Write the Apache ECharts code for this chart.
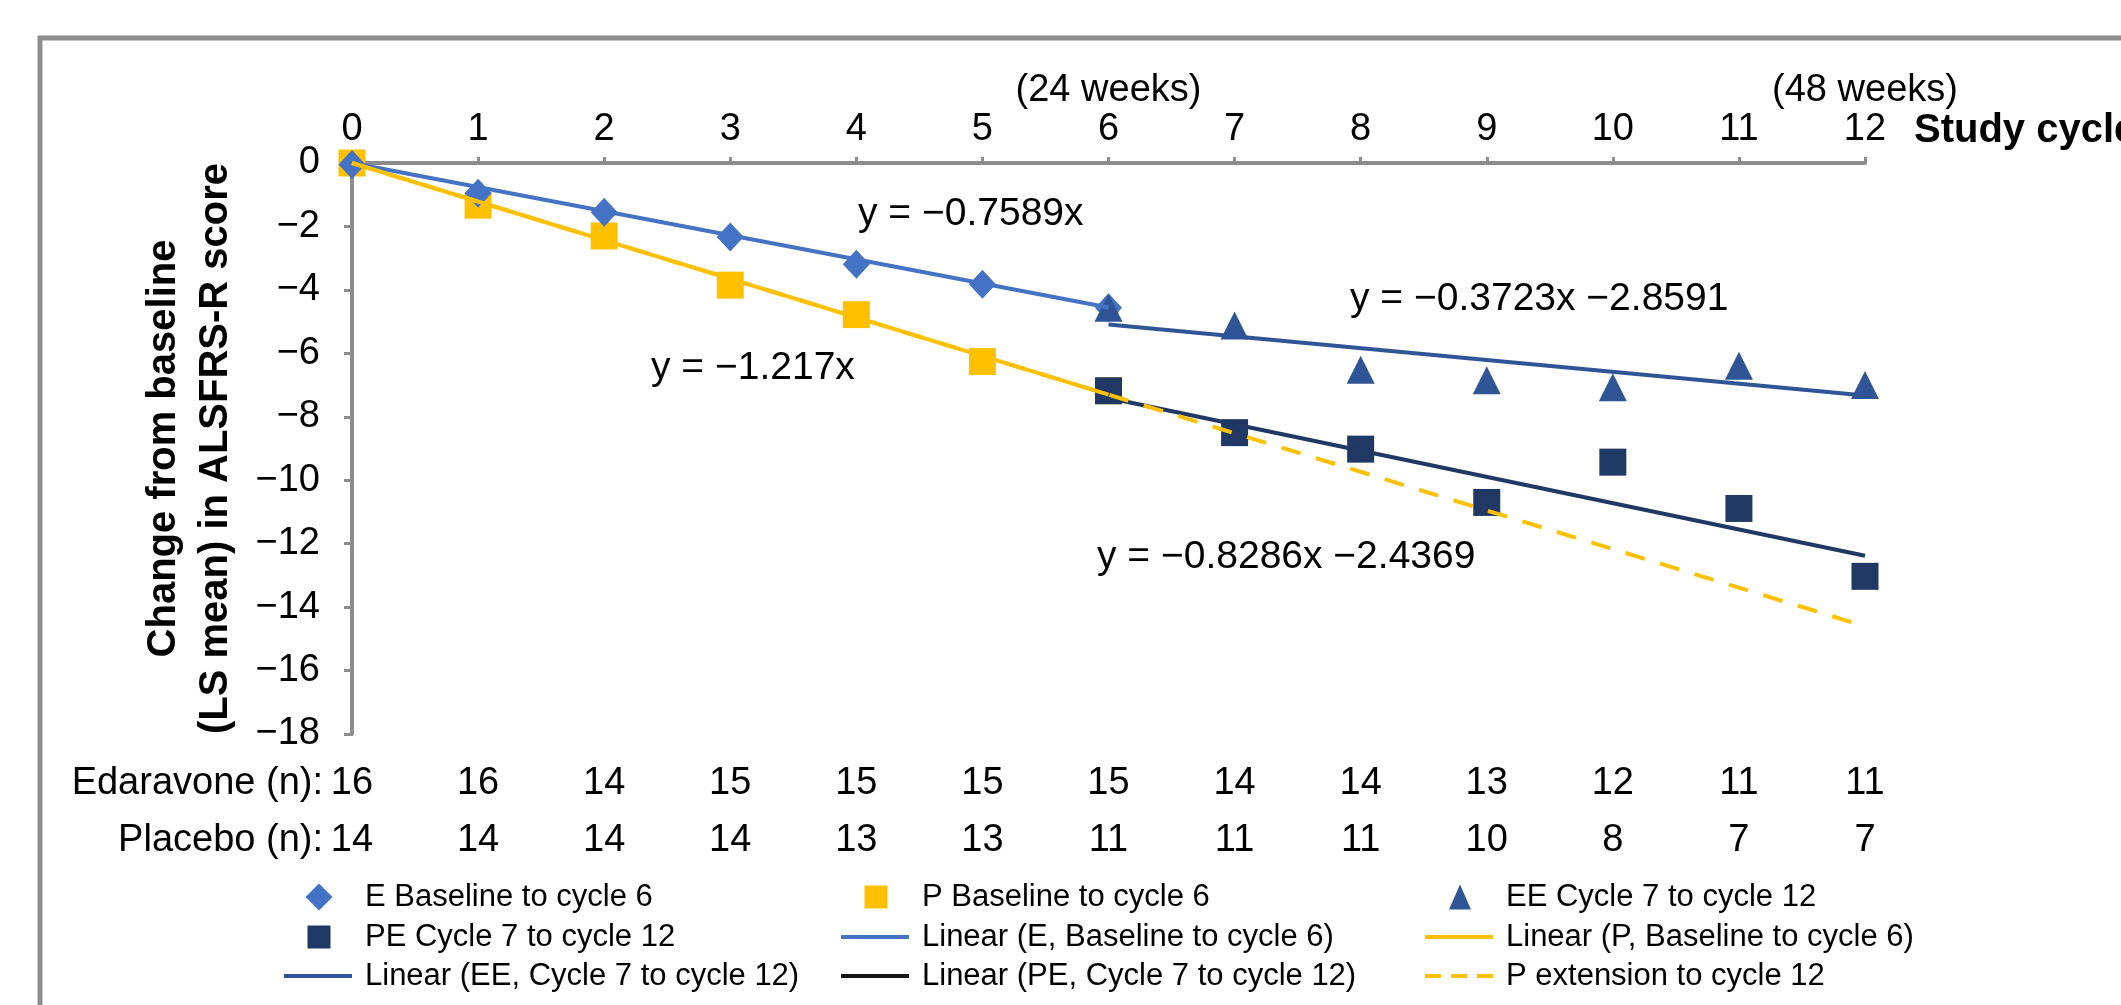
<!DOCTYPE html>
<html><head><meta charset="utf-8">
<script src="https://cdn.jsdelivr.net/npm/echarts@6/dist/echarts.min.js"></script>
<style>html,body{margin:0;padding:0;background:#fff}#chart{width:2121px;height:1005px}</style>
</head><body><div id="chart"></div>
<script>
// ---- data ----
const cycles = [0,1,2,3,4,5,6,7,8,9,10,11,12];
const eBaseline = [-0.05, -0.95, -1.55, -2.33, -3.19, -3.82, -4.56];   // cycles 0-6
const pBaseline = [0, -1.33, -2.30, -3.85, -4.78, -6.26, -7.18];       // cycles 0-6
const eeCycles  = [-4.56, -5.12, -6.52, -6.85, -7.07, -6.39, -7.00];   // cycles 6-12
const peCycles  = [-7.18, -8.50, -9.02, -10.70, -9.43, -10.89, -13.03];// cycles 6-12
const edaravoneN = [16,16,14,15,15,15,15,14,14,13,12,11,11];
const placeboN   = [14,14,14,14,13,13,11,11,11,10,8,7,7];
const weekLabels = {6: '(24 weeks)', 12: '(48 weeks)'};
const seriesNames = ['E Baseline to cycle 6','P Baseline to cycle 6','EE Cycle 7 to cycle 12','PE Cycle 7 to cycle 12'];
const trendNames = ['Linear (E, Baseline to cycle 6)','Linear (P, Baseline to cycle 6)','Linear (EE, Cycle 7 to cycle 12)','Linear (PE, Cycle 7 to cycle 12)','P extension to cycle 12'];
const trendSlopes = [-0.7589, -1.217, -0.3723, -0.8286, -1.217];
const trendIntercepts = [0, 0, -2.8591, -2.4369, 0];
const trendStart = [0, 0, 6, 6, 0];
const trendEnd = [6, 6, 12, 12, 12];
const equationTexts = ['y = \u22120.7589x', 'y = \u22121.217x', 'y = \u22120.3723x \u22122.8591', 'y = \u22120.8286x \u22122.4369'];

// ---- styles ----
const FONT = '"Liberation Sans", Arial, Helvetica, sans-serif';
const cE = '#4472C4', cP = '#FFC000', cEE = '#2F5597', cPE = '#1F3864';
const grey = '#8c8c8c';
const minus = v => v < 0 ? '\u2212' + Math.abs(v) : String(v);

const chart = echarts.init(document.getElementById('chart'), null, {renderer: 'canvas'});

function pts(vals, start) { return vals.map((v, i) => [cycles[i + start], v]); }
function trend(k) {
  const a = trendStart[k], b = trendEnd[k];
  return [[a, trendSlopes[k] * a + trendIntercepts[k]], [b, trendSlopes[k] * b + trendIntercepts[k]]];
}
const trendColors = [cE, cP, cEE, cPE, cP];
const trendTypes = ['solid','solid','solid','solid',[20,16]];

const nAxis = (arr, name, offset) => ({
  type: 'value', min: 0, max: 12, interval: 1, position: 'bottom', offset: offset,
  axisLine: {show: false, onZero: false}, axisTick: {show: false}, splitLine: {show: false},
  axisLabel: {fontSize: 38, fontFamily: FONT, color: '#000', margin: 0, verticalAlign: 'middle',
    formatter: v => String(arr[v])},
  name: name, nameLocation: 'start', nameGap: 29, nameMoveOverlap: false,
  nameTextStyle: {fontSize: 38, fontFamily: FONT, color: '#000', verticalAlign: 'middle'}
});

// one legend per entry, so marker and line icons keep their own sizes
const rowY = [897, 937, 976];
const textX = [365, 922, 1506];
function legendItem(col, row, dataItem, w, h) {
  const isLine = w > 40;
  const left = isLine ? textX[col] - 81 : textX[col] - 46 - w / 2;
  return {
    orient: 'vertical', left: left, top: rowY[row] - 19.5, padding: 0,
    itemWidth: w, itemHeight: h, itemGap: 0, selectedMode: false,
    textStyle: {fontSize: 31, fontFamily: FONT, color: '#000', lineHeight: 39,
      padding: [0, 0, 0, textX[col] - left - w - 5]},
    data: [dataItem]
  };
}
const dashIcon = 'path://M0,0h16v4h-16z M26,0h16v4h-16z M52,0h16v4h-16z';

const option = {
  backgroundColor: '#fff',
  animation: false,
  grid: {left: 352, right: 256, top: 163, bottom: 271, containLabel: false, outerBoundsMode: 'none'},
  xAxis: [
    {
      type: 'value', min: 0, max: 12, interval: 1, position: 'top',
      axisLine: {show: true, onZero: false, lineStyle: {color: grey, width: 4}},
      axisTick: {show: true, length: 6, lineStyle: {color: grey, width: 3}},
      splitLine: {show: false},
      axisLabel: {fontSize: 38, fontFamily: FONT, color: '#000', margin: 14, lineHeight: 39,
        formatter: v => weekLabels[v] ? weekLabels[v] + '\n' + v : String(v)},
      name: 'Study cycle', nameLocation: 'end', nameGap: 49, nameMoveOverlap: false,
      nameTextStyle: {fontSize: 40, fontFamily: FONT, fontWeight: 'bold', color: '#000',
        verticalAlign: 'bottom', padding: [0,0,12,0]}
    },
    nAxis(edaravoneN, 'Edaravone (n):', 50),
    nAxis(placeboN, 'Placebo (n):', 107)
  ],
  yAxis: {
    type: 'value', min: -18, max: 0, interval: 2, position: 'left',
    axisLine: {show: true, onZero: false, lineStyle: {color: grey, width: 4}},
    axisTick: {show: true, length: 8, lineStyle: {color: grey, width: 3}},
    splitLine: {show: false},
    axisLabel: {fontSize: 38, fontFamily: FONT, color: '#000', margin: 32, formatter: minus},
    name: 'Change from baseline\n(LS mean) in ALSFRS-R score',
    nameLocation: 'middle', nameGap: 110, nameRotate: 90, nameMoveOverlap: false,
    nameTextStyle: {fontSize: 40, fontFamily: FONT, fontWeight: 'bold', color: '#000', lineHeight: 52}
  },
  legend: [
    legendItem(0, 0, {name: seriesNames[0], icon: 'diamond'}, 27, 27),
    legendItem(1, 0, {name: seriesNames[1], icon: 'rect'}, 23, 23),
    legendItem(2, 0, {name: seriesNames[2], icon: 'triangle'}, 22, 25),
    legendItem(0, 1, {name: seriesNames[3], icon: 'rect'}, 23, 23),
    legendItem(1, 1, {name: trendNames[0], icon: 'rect'}, 68, 4),
    legendItem(2, 1, {name: trendNames[1], icon: 'rect'}, 68, 4),
    legendItem(0, 2, {name: trendNames[2], icon: 'rect'}, 68, 4),
    legendItem(1, 2, {name: trendNames[3], icon: 'rect', itemStyle: {color: '#151515'}}, 68, 4),
    legendItem(2, 2, {name: trendNames[4], icon: dashIcon}, 68, 4)
  ],
  series: [
    {name: seriesNames[1], type: 'scatter', symbol: 'rect', symbolSize: 27, itemStyle: {color: cP, opacity: 1}, data: pts(pBaseline, 0), z: 2},
    {name: seriesNames[0], type: 'scatter', symbol: 'diamond', symbolSize: [27, 29], itemStyle: {color: cE, opacity: 1}, data: pts(eBaseline, 0), z: 2},
    {name: seriesNames[3], type: 'scatter', symbol: 'rect', symbolSize: 27, itemStyle: {color: cPE, opacity: 1}, data: pts(peCycles, 6), z: 2},
    {name: seriesNames[2], type: 'scatter', symbol: 'triangle', symbolSize: 28, itemStyle: {color: cEE, opacity: 1}, data: pts(eeCycles, 6), z: 2}
  ].concat(trendNames.map((n, k) => ({
    name: n, type: 'line', symbol: 'none', silent: true, z: 3,
    itemStyle: {color: trendColors[k]},
    lineStyle: {color: trendColors[k], width: 4, type: trendTypes[k]},
    data: trend(k)
  }))),
  graphic: [
    {type: 'rect', z: -10, silent: true, shape: {x: 40, y: 38, width: 2300, height: 1200},
      style: {fill: 'none', stroke: '#8e8e91', lineWidth: 5}},
    {type: 'text', x: 858, y: 214, style: {text: equationTexts[0], fontSize: 39, fontFamily: FONT, fill: '#000', align: 'left', verticalAlign: 'middle'}},
    {type: 'text', x: 651, y: 368, style: {text: equationTexts[1], fontSize: 39, fontFamily: FONT, fill: '#000', align: 'left', verticalAlign: 'middle'}},
    {type: 'text', x: 1350, y: 299, style: {text: equationTexts[2], fontSize: 39, fontFamily: FONT, fill: '#000', align: 'left', verticalAlign: 'middle'}},
    {type: 'text', x: 1097, y: 557, style: {text: equationTexts[3], fontSize: 39, fontFamily: FONT, fill: '#000', align: 'left', verticalAlign: 'middle'}}
  ]
};
chart.setOption(option);
</script>
</body></html>
